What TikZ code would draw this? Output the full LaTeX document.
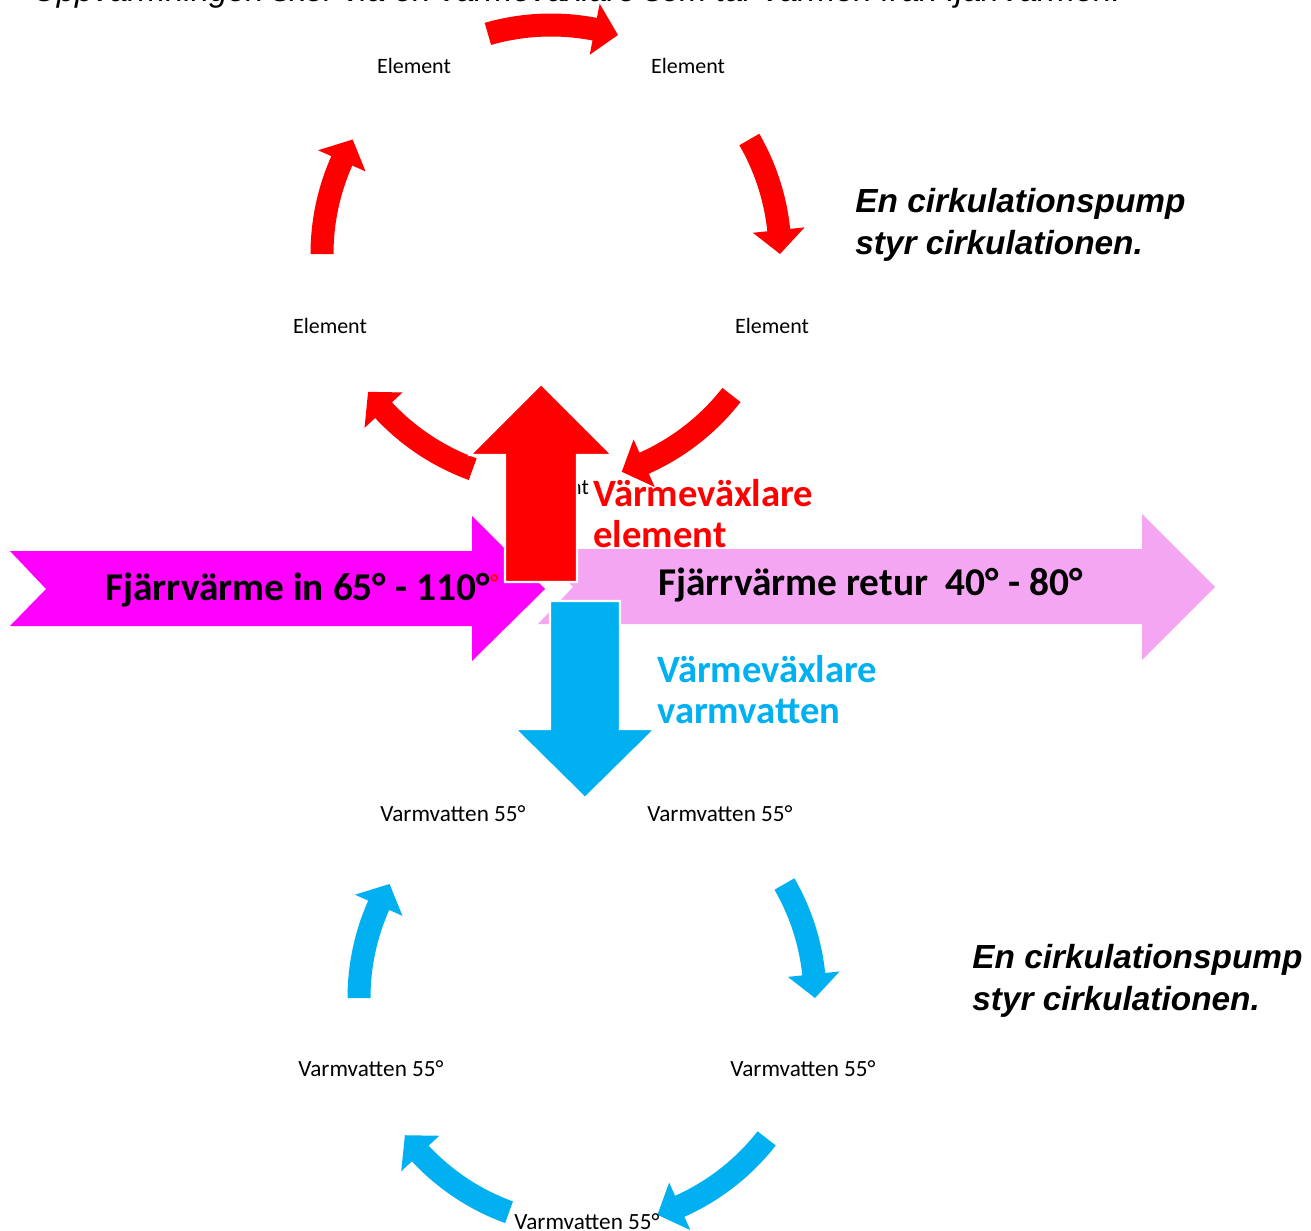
\documentclass[tikz,border=0pt]{standalone}
\usepackage{fontspec}
\setmainfont{Carlito}
\newfontfamily\arialf{Liberation Sans}
\definecolor{cred}{RGB}{255,0,0}
\definecolor{cmag}{RGB}{255,0,255}
\definecolor{cpink}{RGB}{245,166,243}
\definecolor{cblue}{RGB}{0,176,240}
% curved cycle arrow: #1 colour, #2 cx, #3 cy (screen), #4 radius, #5 start angle, #6 end angle (tip)
\newcommand{\cycarrow}[6]{%
  \pgfmathsetmacro{\hb}{#6+6}%
  \fill[#1] plot[domain=#5:\hb,samples=30] ({#2+(#4+11.5)*cos(\x)},{#3-(#4+11.5)*sin(\x)})
   -- ({#2+(#4+26)*cos(\hb)},{#3-(#4+26)*sin(\hb)})
   -- ({#2+#4*cos(#6)},{#3-#4*sin(#6)})
   -- ({#2+(#4-26)*cos(\hb)},{#3-(#4-26)*sin(\hb)})
   -- plot[domain=\hb:#5,samples=30] ({#2+(#4-11.5)*cos(\x)},{#3-(#4-11.5)*sin(\x)})
   -- cycle;%
}
\begin{document}
\begin{tikzpicture}[x=0.02cm,y=-0.02cm,
  lbl/.style={font=\fontsize{12.5}{15}\selectfont, inner sep=0, anchor=base},
  vlbl/.style={font=\fontsize{13.2}{15}\selectfont, inner sep=0, anchor=base},
  bigtxt/.style={font=\bfseries\fontsize{22.4}{27}\selectfont, inner sep=0, anchor=base west},
  hxtxt/.style={font=\bfseries\fontsize{22}{26}\selectfont, inner sep=0, anchor=base west},
  notetxt/.style={font=\arialf\bfseries\itshape\fontsize{19}{23}\selectfont, inner sep=0, anchor=base west},
  toptxt/.style={font=\arialf\itshape\fontsize{18.6}{22}\selectfont, inner sep=0, anchor=base west},
  bigarrow/.style={draw=white, line width=1.2pt, line join=miter}]
\useasboundingbox (0,0) rectangle (1311,1230);
\begin{scope}
\clip (0,0) rectangle (1311,1230);
\fill[white] (0,0) rectangle (1311,1230);

% cut-off heading
\node[toptxt] (title) at (33,2) {Uppvärmningen sker via en värmeväxlare som tar värmen från fjärrvärmen.};

% red cycle
\cycarrow{cred}{551}{254}{229}{106}{73}
\cycarrow{cred}{551}{254}{229}{30}{0}
\cycarrow{cred}{551}{254}{229}{-38}{-72}
\cycarrow{cred}{551}{254}{229}{-110}{-143}
\cycarrow{cred}{551}{254}{229}{180}{150}
\node[lbl] (e1) at (414,73) {Element};
\node[lbl] (e2) at (688,73) {Element};
\node[lbl] (e3) at (772,333) {Element};
\node[lbl] (e5) at (330,333) {Element};
\node[lbl] (e4) at (552,494) {Element};

% blue cycle
\cycarrow{cblue}{587}{998}{228}{30}{0}
\cycarrow{cblue}{587}{998}{228}{-38}{-72}
\cycarrow{cblue}{587}{998}{228}{-110}{-143}
\cycarrow{cblue}{587}{998}{228}{180}{150}
\node[vlbl] (v1) at (453,821) {Varmvatten 55°};
\node[vlbl] (v2) at (720,821) {Varmvatten 55°};
\node[vlbl] (v3) at (803,1076) {Varmvatten 55°};
\node[vlbl] (v4) at (587,1229) {Varmvatten 55°};
\node[vlbl] (v5) at (371,1076) {Varmvatten 55°};

% district heating arrows
\fill[cpink] (538,549) -- (1142,549) -- (1142,514) -- (1215,587) -- (1142,660) -- (1142,624) -- (538,624) -- (573,587) -- cycle;
\fill[cmag] (10,551) -- (472,551) -- (472,516) -- (545,589) -- (472,661) -- (472,626) -- (10,626) -- (46,589) -- cycle;
\filldraw[cred,bigarrow] (505,582) -- (505,455) -- (470,455) -- (541,384) -- (612,455) -- (577,455) -- (577,582) -- cycle;
\filldraw[cblue,bigarrow] (550,601) -- (620,601) -- (620,729) -- (655,729) -- (585,798) -- (515,729) -- (550,729) -- cycle;

% texts
\node[bigtxt] (fin) at (105,600) {Fjärrvärme in 65° - 110°};
\node[font=\bfseries\fontsize{13}{15}\selectfont, text=cred, inner sep=0, anchor=base west] (deg) at (490,590) {°};
\node[bigtxt] (fret) at (658,595) {Fjärrvärme retur\ \ 40° - 80°};
\node[hxtxt, text=cred] (vve1) at (593,506) {Värmeväxlare};
\node[hxtxt, text=cred] (vve2) at (593,547) {element};
\node[hxtxt, text=cblue] (vvv1) at (657,682) {Värmeväxlare};
\node[hxtxt, text=cblue] (vvv2) at (657,723) {varmvatten};
\node[notetxt] (n1a) at (855,212) {En cirkulationspump};
\node[notetxt] (n1b) at (855,254) {styr cirkulationen.};
\node[notetxt] (n2a) at (972,968) {En cirkulationspump};
\node[notetxt] (n2b) at (972,1010) {styr cirkulationen.};
\end{scope}
\end{tikzpicture}
\end{document}
